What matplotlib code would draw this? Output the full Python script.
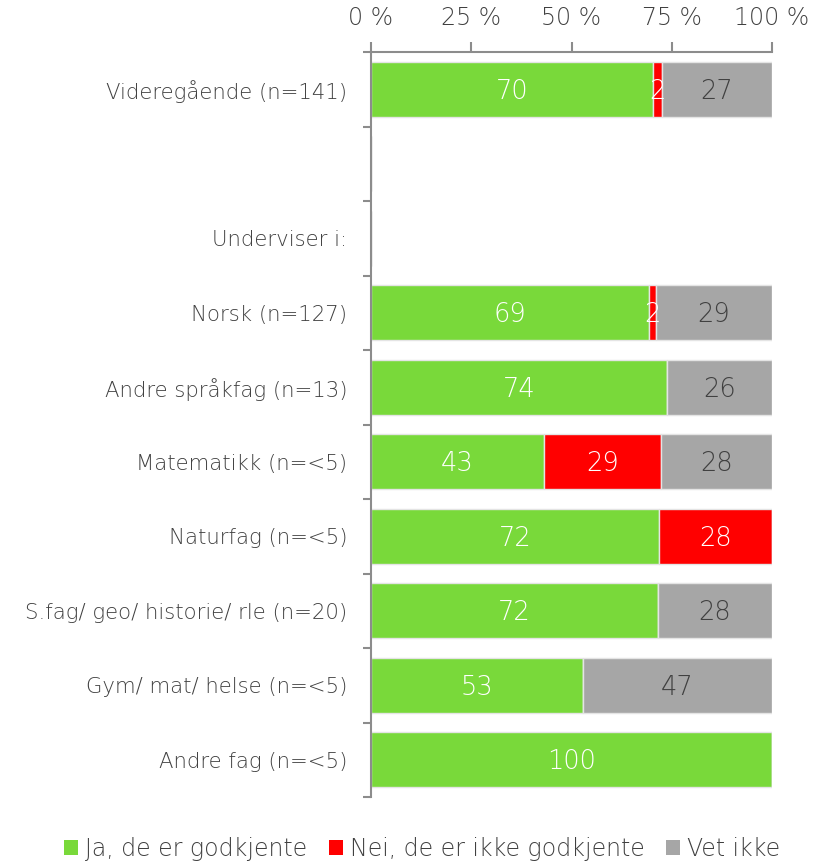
import matplotlib
matplotlib.use("Agg")
import matplotlib.pyplot as plt
import numpy as np

categories = [
    "Videregående (n=141)",
    "",
    "Underviser i:",
    "Norsk (n=127)",
    "Andre språkfag (n=13)",
    "Matematikk (n=<5)",
    "Naturfag (n=<5)",
    "S.fag/ geo/ historie/ rle (n=20)",
    "Gym/ mat/ helse (n=<5)",
    "Andre fag (n=<5)",
]
ja = [70.3, 0, 0, 69.3, 73.8, 43.1, 71.8, 71.6, 52.9, 100.0]
nei = [2.3, 0, 0, 1.8, 0, 29.2, 28.2, 0, 0, 0]
vet_ikke = [27.4, 0, 0, 28.9, 26.2, 27.7, 0, 28.4, 47.1, 0]
series_names = ["Ja, de er godkjente", "Nei, de er ikke godkjente", "Vet ikke"]
colors = ["#79D93A", "#FF0000", "#A6A6A6"]
text_colors = ["white", "white", "#404040"]
xticks = [0, 25, 50, 75, 100]

font = ["DejaVu Sans"]
dark = "#404040"
axis_grey = "#8c8c8c"

fig = plt.figure(figsize=(8.13, 8.61), dpi=100)
ax = fig.add_axes([371 / 813, 1 - 797 / 861, (772 - 371) / 813, (797 - 52) / 861])

y = np.arange(len(categories))
left = np.zeros(len(categories))
for vals, name, col, tcol in zip([ja, nei, vet_ikke], series_names, colors, text_colors):
    vals = np.array(vals)
    ax.barh(y, vals, left=left, height=0.74, color=col,
            edgecolor="#e4e4e4", linewidth=1, label=name)
    for yi, v, l in zip(y, vals, left):
        if v > 0:
            ax.text(l + v / 2, yi + 0.03, f"{v:.0f}", ha="center", va="center",
                    color=tcol, fontsize=18.5, family=font, fontweight="light")
    left += vals

ax.set_xlim(0, 100)
ax.set_ylim(len(categories) - 0.5, -0.5)
ax.xaxis.tick_top()
ax.set_xticks(xticks)
ax.set_xticklabels([f"{t} %" for t in xticks], fontsize=17, family=font,
                   fontweight="light", color=dark)
ax.tick_params(axis="x", which="major", direction="out", length=7, width=1.5,
               color=axis_grey, pad=9)

ax.set_yticks(y)
ax.set_yticklabels(categories, fontsize=15.3, family=font, fontweight="light",
                   color=dark)
ax.set_yticks(np.arange(-0.5, len(categories)), minor=True)
ax.tick_params(axis="y", which="major", length=0, pad=17)
ax.tick_params(axis="y", which="minor", direction="out", length=6, width=1.5,
               color=axis_grey)

for s in ["right", "bottom"]:
    ax.spines[s].set_visible(False)
for s in ["left", "top"]:
    ax.spines[s].set_color(axis_grey)
    ax.spines[s].set_linewidth(1.5)

handles, labels = ax.get_legend_handles_labels()
leg = fig.legend(handles, labels, loc="center",
                 bbox_to_anchor=(422 / 813, 1 - 849 / 861),
                 ncol=3, frameon=False, handlelength=0.6, handleheight=0.6,
                 handletextpad=0.3, columnspacing=0.9, borderpad=0,
                 prop={"family": font, "size": 17, "weight": "light"})
for t in leg.get_texts():
    t.set_color(dark)
for h in leg.legend_handles:
    h.set_edgecolor("none")

fig.savefig("out.png", dpi=100)
